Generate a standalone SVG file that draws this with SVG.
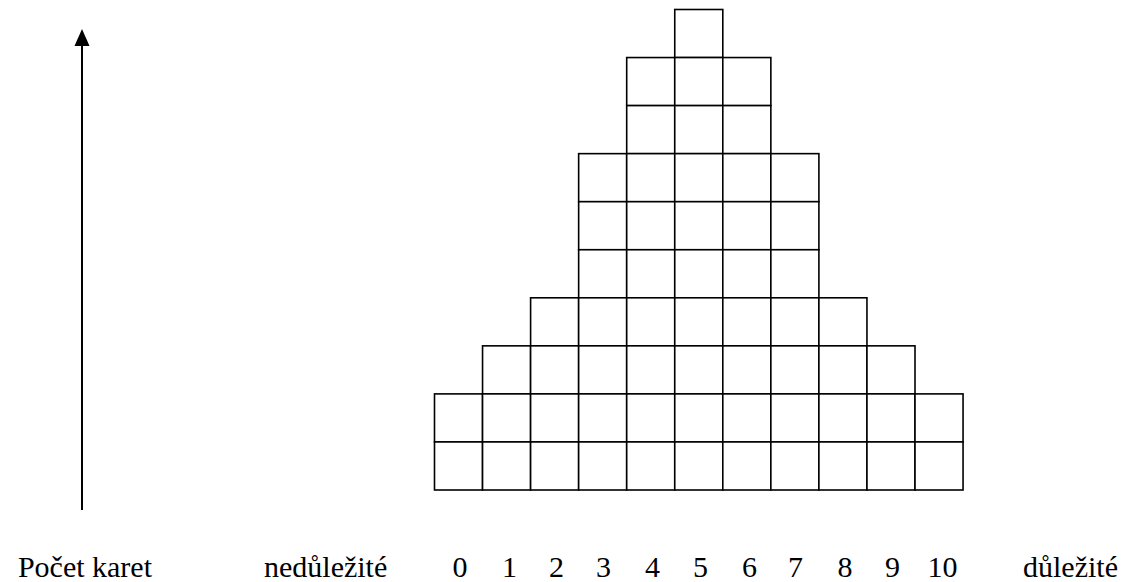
<svg xmlns="http://www.w3.org/2000/svg" width="1132" height="582" viewBox="0 0 1132 582">
<style>
.c{fill:#fff;stroke:#000;stroke-width:1.6}
.n{text-anchor:middle}
text{font-family:'Liberation Serif','Times New Roman','DejaVu Serif',serif;font-size:30px;fill:#000}
</style>
<rect width="1132" height="582" fill="#fff"/>
<g id="connectors">
<line x1="82" y1="510" x2="82" y2="44" stroke="#000" stroke-width="2"/>
<polygon points="82,29 74.5,46 89.5,46" fill="#000"/>
</g>
<g id="col0"><rect class="c" x="434.5" y="393.9" width="48.05" height="48.05"/><rect class="c" x="434.5" y="441.95" width="48.05" height="48.05"/></g>
<g id="col1"><rect class="c" x="482.55" y="345.85" width="48.05" height="48.05"/><rect class="c" x="482.55" y="393.9" width="48.05" height="48.05"/><rect class="c" x="482.55" y="441.95" width="48.05" height="48.05"/></g>
<g id="col2"><rect class="c" x="530.6" y="297.8" width="48.05" height="48.05"/><rect class="c" x="530.6" y="345.85" width="48.05" height="48.05"/><rect class="c" x="530.6" y="393.9" width="48.05" height="48.05"/><rect class="c" x="530.6" y="441.95" width="48.05" height="48.05"/></g>
<g id="col3"><rect class="c" x="578.65" y="153.65" width="48.05" height="48.05"/><rect class="c" x="578.65" y="201.7" width="48.05" height="48.05"/><rect class="c" x="578.65" y="249.75" width="48.05" height="48.05"/><rect class="c" x="578.65" y="297.8" width="48.05" height="48.05"/><rect class="c" x="578.65" y="345.85" width="48.05" height="48.05"/><rect class="c" x="578.65" y="393.9" width="48.05" height="48.05"/><rect class="c" x="578.65" y="441.95" width="48.05" height="48.05"/></g>
<g id="col4"><rect class="c" x="626.7" y="57.55" width="48.05" height="48.05"/><rect class="c" x="626.7" y="105.6" width="48.05" height="48.05"/><rect class="c" x="626.7" y="153.65" width="48.05" height="48.05"/><rect class="c" x="626.7" y="201.7" width="48.05" height="48.05"/><rect class="c" x="626.7" y="249.75" width="48.05" height="48.05"/><rect class="c" x="626.7" y="297.8" width="48.05" height="48.05"/><rect class="c" x="626.7" y="345.85" width="48.05" height="48.05"/><rect class="c" x="626.7" y="393.9" width="48.05" height="48.05"/><rect class="c" x="626.7" y="441.95" width="48.05" height="48.05"/></g>
<g id="col5"><rect class="c" x="674.75" y="9.5" width="48.05" height="48.05"/><rect class="c" x="674.75" y="57.55" width="48.05" height="48.05"/><rect class="c" x="674.75" y="105.6" width="48.05" height="48.05"/><rect class="c" x="674.75" y="153.65" width="48.05" height="48.05"/><rect class="c" x="674.75" y="201.7" width="48.05" height="48.05"/><rect class="c" x="674.75" y="249.75" width="48.05" height="48.05"/><rect class="c" x="674.75" y="297.8" width="48.05" height="48.05"/><rect class="c" x="674.75" y="345.85" width="48.05" height="48.05"/><rect class="c" x="674.75" y="393.9" width="48.05" height="48.05"/><rect class="c" x="674.75" y="441.95" width="48.05" height="48.05"/></g>
<g id="col6"><rect class="c" x="722.8" y="57.55" width="48.05" height="48.05"/><rect class="c" x="722.8" y="105.6" width="48.05" height="48.05"/><rect class="c" x="722.8" y="153.65" width="48.05" height="48.05"/><rect class="c" x="722.8" y="201.7" width="48.05" height="48.05"/><rect class="c" x="722.8" y="249.75" width="48.05" height="48.05"/><rect class="c" x="722.8" y="297.8" width="48.05" height="48.05"/><rect class="c" x="722.8" y="345.85" width="48.05" height="48.05"/><rect class="c" x="722.8" y="393.9" width="48.05" height="48.05"/><rect class="c" x="722.8" y="441.95" width="48.05" height="48.05"/></g>
<g id="col7"><rect class="c" x="770.85" y="153.65" width="48.05" height="48.05"/><rect class="c" x="770.85" y="201.7" width="48.05" height="48.05"/><rect class="c" x="770.85" y="249.75" width="48.05" height="48.05"/><rect class="c" x="770.85" y="297.8" width="48.05" height="48.05"/><rect class="c" x="770.85" y="345.85" width="48.05" height="48.05"/><rect class="c" x="770.85" y="393.9" width="48.05" height="48.05"/><rect class="c" x="770.85" y="441.95" width="48.05" height="48.05"/></g>
<g id="col8"><rect class="c" x="818.9" y="297.8" width="48.05" height="48.05"/><rect class="c" x="818.9" y="345.85" width="48.05" height="48.05"/><rect class="c" x="818.9" y="393.9" width="48.05" height="48.05"/><rect class="c" x="818.9" y="441.95" width="48.05" height="48.05"/></g>
<g id="col9"><rect class="c" x="866.95" y="345.85" width="48.05" height="48.05"/><rect class="c" x="866.95" y="393.9" width="48.05" height="48.05"/><rect class="c" x="866.95" y="441.95" width="48.05" height="48.05"/></g>
<g id="col10"><rect class="c" x="915" y="393.9" width="48.05" height="48.05"/><rect class="c" x="915" y="441.95" width="48.05" height="48.05"/></g>
<g id="labels">
<text x="152" y="577" text-anchor="end">Počet karet</text>
<text x="264" y="577">nedůležité</text>
<text class="n" x="460" y="577">0</text>
<text class="n" x="509.5" y="577">1</text>
<text class="n" x="556.5" y="577">2</text>
<text class="n" x="603.5" y="577">3</text>
<text class="n" x="652.5" y="577">4</text>
<text class="n" x="700.5" y="577">5</text>
<text class="n" x="749.5" y="577">6</text>
<text class="n" x="795.5" y="577">7</text>
<text class="n" x="845" y="577">8</text>
<text class="n" x="892.5" y="577">9</text>
<text class="n" x="942.5" y="577">10</text>
<text x="1023" y="577">důležité</text>
</g>
</svg>
